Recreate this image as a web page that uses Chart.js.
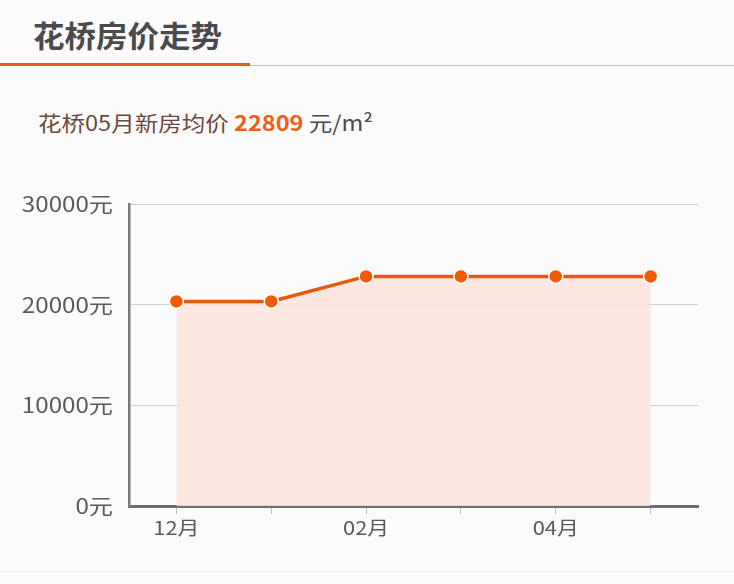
<!DOCTYPE html>
<html>
<head>
<meta charset="utf-8">
<script src="https://cdn.jsdelivr.net/npm/chart.js@4"></script>
<style>
  html, body { margin: 0; padding: 0; background: #fcfbfc; }
  body { width: 734px; height: 584px; position: relative; overflow: hidden;
         font-family: "Noto Sans CJK SC", "Noto Sans", sans-serif; }
  #title { position: absolute; left: 33px; top: 12px; font-size: 30px; font-weight: bold;
           color: #4a4a4c; line-height: 44px; white-space: nowrap;
           transform: scaleX(1.05); transform-origin: 0 0; }
  #lineOrange { position: absolute; left: 0; top: 63px; width: 250px; height: 3px; background: #f0581a; }
  #lineGray { position: absolute; left: 250px; top: 65px; width: 484px; height: 1px; background: #c4c2c4; }
  #sub { position: absolute; left: 38px; top: 106px; font-size: 21px; color: #6a4a3c;
         line-height: 32px; white-space: nowrap;
         transform: scaleX(1.12); transform-origin: 0 0; }
  #sub b { color: #ef6016; font-size: 21px; }
  #sub span { color: #4a4a4a; }
  #bottomLine { position: absolute; left: 0; top: 571px; width: 734px; height: 1px; background: #ececec; }
  #wrap { position: absolute; left: 0; top: 0; width: 734px; height: 584px; }
</style>
</head>
<body>
<div id="title">花桥房价走势</div>
<div id="lineOrange"></div>
<div id="lineGray"></div>
<div id="sub">花桥05月新房均价 <b>22809</b> <span>元/m²</span></div>
<div id="bottomLine"></div>
<div id="wrap"><canvas id="c" width="734" height="584"></canvas></div>
<script>
const months = ['12月', '01月', '02月', '03月', '04月', '05月'];
const shownLabels = ['12月', '', '02月', '', '04月', ''];
const prices = [20320, 20320, 22809, 22809, 22809, 22809];
const yTicks = [0, 10000, 20000, 30000];

const ctx = document.getElementById('c').getContext('2d');
// the reference text looks slightly wide; stretch canvas text horizontally
const TEXT_SX = 1.15;
const origFillText = ctx.fillText;
ctx.fillText = function (t, x, y) {
  this.save();
  this.translate(x, y);
  this.scale(TEXT_SX, 1);
  origFillText.call(this, t, 0, 0);
  this.restore();
};

new Chart(ctx, {
  type: 'line',
  data: {
    labels: months,
    datasets: [{
      data: prices,
      borderColor: '#e9580c',
      borderWidth: 3.5,
      backgroundColor: 'rgba(252, 228, 218, 0.85)',
      fill: 'origin',
      tension: 0,
      pointRadius: 7,
      pointHoverRadius: 7,
      pointBackgroundColor: '#f25a05',
      pointBorderColor: '#ffffff',
      pointBorderWidth: 1.5
    }]
  },
  options: {
    responsive: false,
    animation: false,
    devicePixelRatio: 1,
    layout: { padding: { left: 0, right: 36, top: 204, bottom: 0 } },
    plugins: { legend: { display: false }, tooltip: { enabled: false } },
    scales: {
      x: {
        type: 'category',
        offset: true,
        grid: { offset: false, drawOnChartArea: false, drawTicks: true, tickLength: 8, tickColor: '#bdbdbd', lineWidth: 1 },
        border: { display: true, color: '#6e6e70', width: 3 },
        ticks: {
          autoSkip: false,
          maxRotation: 0,
          padding: 2,
          color: '#5a5a5a',
          font: { family: '"Noto Sans CJK SC", "Noto Sans"', size: 19 },
          callback: (v, i) => shownLabels[i]
        },
        afterFit: (s) => { s.height = 78; }
      },
      y: {
        min: 0,
        max: 30000,
        afterBuildTicks: (s) => { s.ticks = yTicks.map(v => ({ value: v })); },
        grid: { drawTicks: false, color: '#d0cfd2', lineWidth: 1 },
        border: { display: true, color: '#7a7a7c', width: 2.5 },
        ticks: {
          padding: 16,
          color: '#5a5a5a',
          font: { family: '"Noto Sans CJK SC", "Noto Sans"', size: 21 },
          callback: (v) => v + '元'
        },
        afterFit: (s) => { s.width = 129; }
      }
    }
  }
});
</script>
</body>
</html>
